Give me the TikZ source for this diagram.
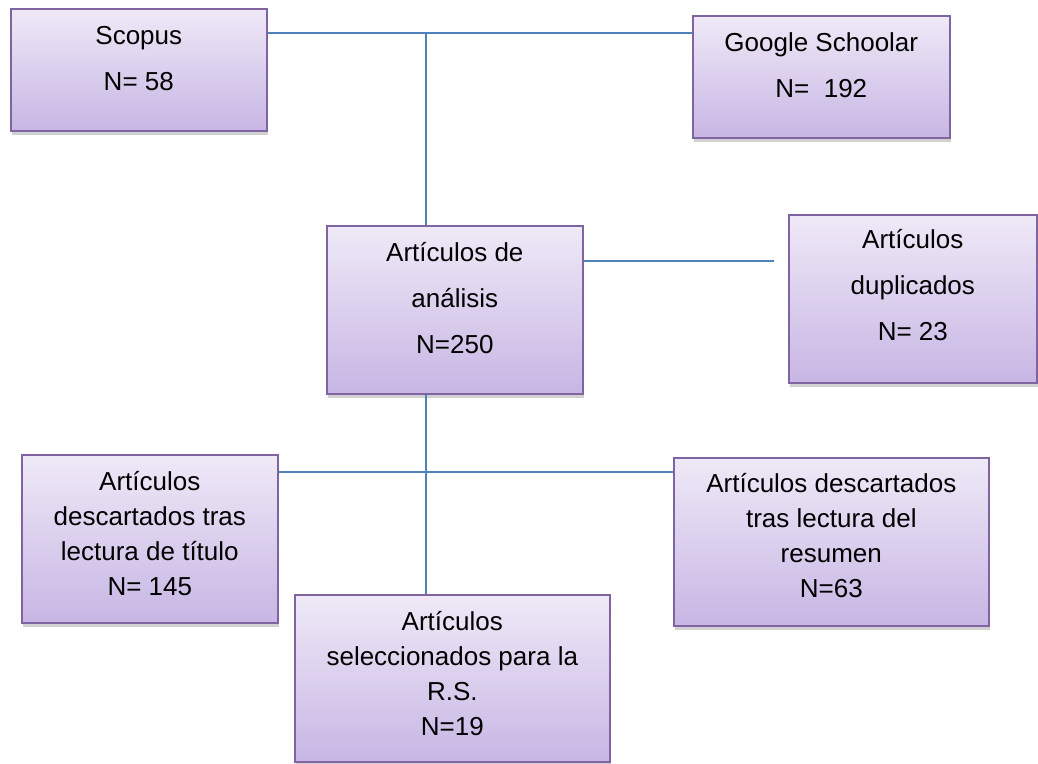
\documentclass[tikz,border=0pt]{standalone}
\usepackage{fontspec}
\setmainfont{Liberation Sans}
\usetikzlibrary{shadows,calc}
\definecolor{boxtop}{RGB}{239,233,247}
\definecolor{boxbot}{RGB}{199,182,228}
\definecolor{boxline}{RGB}{128,100,162}
\definecolor{connblue}{RGB}{79,129,189}
\tikzset{
  box/.style={draw=boxline, line width=1.6pt, top color=boxtop, bottom color=boxbot,
    drop shadow={shadow xshift=1pt, shadow yshift=-4pt, fill=black, opacity=0.18},
    inner sep=0pt, anchor=north west},
  txtwide/.style={font=\fontsize{26}{46}\selectfont, align=center, anchor=base, inner sep=0pt},
  txtnarrow/.style={font=\fontsize{26}{35}\selectfont, align=center, anchor=base, inner sep=0pt},
  conn/.style={draw=connblue, line width=2.2pt}
}
\begin{document}
\begin{tikzpicture}[x=1pt,y=-1pt]
\useasboundingbox (0,0) rectangle (1038,763);
% connectors
\coordinate (jtop) at (426,33);
\coordinate (dupend) at (774,261);
\coordinate (jmid) at (426,472);
% boxes
\node[box, minimum width=256pt, minimum height=122pt] (scopus) at (10,8) {};
\node[box, minimum width=257pt, minimum height=122pt] (google) at (692,15) {};
\node[box, minimum width=256pt, minimum height=168pt] (analisis) at (326,225) {};
\node[box, minimum width=248pt, minimum height=168pt] (dup) at (788,214) {};
\node[box, minimum width=256pt, minimum height=168pt] (titulo) at (21,454) {};
\node[box, minimum width=315pt, minimum height=168pt] (resumen) at (673,457) {};
\node[box, minimum width=315pt, minimum height=167pt] (selec) at (294,594) {};
\draw[conn] (scopus.east |- jtop) -- (google.west |- jtop);
\draw[conn] (jtop) -- (analisis.north -| jtop);
\draw[conn] (analisis.east |- dupend) -- (dupend);
\draw[conn] (analisis.south -| jmid) -- (selec.north -| jmid);
\draw[conn] (titulo.east |- jmid) -- (resumen.west |- jmid);
% texts (base anchor = baseline of last line)
\node[txtwide] (scopus-t) at ([yshift=-82pt]scopus.north) {Scopus\\N= 58};
\node[txtwide] (google-t) at ([yshift=-82pt]google.north) {Google Schoolar\\N=\ \ 192};
\node[txtwide] (analisis-t) at ([yshift=-128pt]analisis.north) {Artículos de\\análisis\\N=250};
\node[txtwide] (dup-t) at ([yshift=-126pt]dup.north) {Artículos\\duplicados\\N= 23};
\node[txtnarrow] (titulo-t) at ([yshift=-141pt]titulo.north) {Artículos\\descartados tras\\lectura de título\\N= 145};
\node[txtnarrow] (resumen-t) at ([yshift=-140pt]resumen.north) {Artículos descartados\\tras lectura del\\resumen\\N=63};
\node[txtnarrow] (selec-t) at ([yshift=-141pt]selec.north) {Artículos\\seleccionados para la\\R.S.\\N=19};
\end{tikzpicture}
\end{document}
